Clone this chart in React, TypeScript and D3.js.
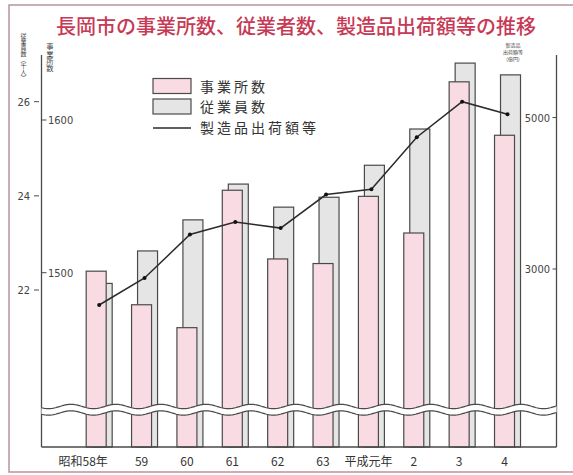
import React from 'react';
import * as d3 from 'd3';

const categories = ['昭和58年', '59', '60', '61', '62', '63', '平成元年', '2', '3', '4'];
const establishments = [1501, 1479, 1464, 1554, 1509, 1506, 1550, 1526, 1625, 1590];
const employees = [22.14, 22.83, 23.49, 24.25, 23.76, 23.97, 24.65, 25.42, 26.82, 26.57];
const shipments = [2525, 2881, 3455, 3620, 3540, 3983, 4052, 4740, 5209, 5042];

const empTicks = [22, 24, 26];
const estTicks = [1500, 1600];
const shipTicks = [3000, 5000];

const empTitle = '従業員数（千人）';
const estTitle = '事業所数';
const shipTitle = ['製造品', '出荷額等', '(億円)'];
const legendLabels = ['事業所数', '従業員数', '製造品出荷額等'];

const W = 573;
const H = 475;
const left = 41.5;
const right = 556.5;
const top = 55;
const bottom = 447;

const PINK = '#f9dbe3';
const GRAY = '#e5e5e5';
const STROKE = '#4a4a4a';
const NUM_FONT = "'Liberation Sans Narrow', 'DejaVu Sans Condensed', 'Liberation Sans', Arial, sans-serif";
const JP_FONT = "'Noto Sans CJK JP', 'Noto Sans', sans-serif";

export default function App() {
  const x = d3.scaleBand<string>().domain(categories).range([76.5, 530.2]).padding(0);
  const bw = x.bandwidth();
  const barW = 20;
  const center = (c: string) => (x(c) as number) + bw / 2;

  const yEmp = d3.scaleLinear().domain([22, 26]).range([290, 101.7]);
  const yEst = d3.scaleLinear().domain([1500, 1600]).range([272.7, 120]);
  const yShip = d3.scaleLinear().domain([3000, 5000]).range([269, 117.5]);

  const linePath = d3
    .line<number>()
    .x((_, i) => center(categories[i]))
    .y((d) => yShip(d))(shipments) as string;

  // wavy break lines
  const waveXs = d3.range(left, right + 0.5, 1);
  const wave = (base: number) => (xx: number) => base + 2.2 * Math.sin(((xx - left) / 45) * 2 * Math.PI + 0.6);
  const upper = wave(406.5);
  const lower = wave(413);
  const upperPts: [number, number][] = waveXs.map((xx) => [xx, upper(xx)]);
  const lowerPts: [number, number][] = waveXs.map((xx) => [xx, lower(xx)]);
  const lineGen = d3.line<[number, number]>();
  const bandPath =
    (lineGen(upperPts) as string) + 'L' + lowerPts.slice().reverse().map((p) => p.join(',')).join('L') + 'Z';

  return (
    <svg width={W} height={H} style={{ position: 'absolute', left: 0, top: 0, background: '#fff' }}>
      {/* outer frame */}
      <path d={`M${W},5H9V472H${W}`} fill="none" stroke="#b8959c" strokeWidth={1.5} />

      {/* title */}
      <text x={296} y={34} textAnchor="middle" fontSize={20} fill="#c63a55" fontFamily={JP_FONT} fontWeight={500}>
        長岡市の事業所数、従業者数、製造品出荷額等の推移
      </text>

      {/* bars: employees (gray, behind) */}
      {categories.map((c, i) => {
        const px = center(c) - 13;
        return (
          <rect
            key={'g' + c}
            x={px + 6}
            y={yEmp(employees[i])}
            width={barW}
            height={bottom - yEmp(employees[i])}
            fill={GRAY}
            stroke={STROKE}
            strokeWidth={1.2}
          />
        );
      })}
      {/* bars: establishments (pink, front) */}
      {categories.map((c, i) => {
        const px = center(c) - 13;
        return (
          <rect
            key={'p' + c}
            x={px}
            y={yEst(establishments[i])}
            width={barW}
            height={bottom - yEst(establishments[i])}
            fill={PINK}
            stroke={STROKE}
            strokeWidth={1.2}
          />
        );
      })}

      {/* axes frame */}
      <line x1={left} x2={left} y1={top} y2={bottom} stroke={STROKE} strokeWidth={1.3} />
      <line x1={right} x2={right} y1={top} y2={bottom} stroke={STROKE} strokeWidth={1.3} />
      <line x1={left} x2={right} y1={bottom} y2={bottom} stroke={STROKE} strokeWidth={1.3} />

      {/* wave break */}
      <path d={bandPath} fill="#fff" stroke="none" />
      <path d={lineGen(upperPts) as string} fill="none" stroke={STROKE} strokeWidth={1.2} />
      <path d={lineGen(lowerPts) as string} fill="none" stroke={STROKE} strokeWidth={1.2} />

      {/* shipments line */}
      <path d={linePath} fill="none" stroke="#2b2b2b" strokeWidth={1.5} />
      {shipments.map((v, i) => (
        <circle key={'d' + i} cx={center(categories[i])} cy={yShip(v)} r={2} fill="#111" />
      ))}

      {/* left outer ticks: employees */}
      {empTicks.map((t) => (
        <g key={'et' + t}>
          <line x1={34} x2={39} y1={yEmp(t)} y2={yEmp(t)} stroke={STROKE} strokeWidth={1} />
          <text x={30} y={yEmp(t) + 4} textAnchor="end" fontSize={11} fill="#444" fontFamily={NUM_FONT}>
            {t}
          </text>
        </g>
      ))}
      {/* left inner ticks: establishments */}
      {estTicks.map((t) => (
        <g key={'st' + t}>
          <line x1={left} x2={46.5} y1={yEst(t)} y2={yEst(t)} stroke={STROKE} strokeWidth={1} />
          <text x={48} y={yEst(t) + 4} textAnchor="start" fontSize={11} fill="#444" fontFamily={NUM_FONT}>
            {t}
          </text>
        </g>
      ))}
      {/* right ticks: shipments */}
      {shipTicks.map((t) => (
        <g key={'sh' + t}>
          <line x1={552.5} x2={right} y1={yShip(t)} y2={yShip(t)} stroke={STROKE} strokeWidth={1} />
          <text x={550} y={yShip(t) + 4} textAnchor="end" fontSize={11} fill="#444" fontFamily={NUM_FONT}>
            {t}
          </text>
        </g>
      ))}

      {/* axis titles */}
      <text
        x={23.5}
        y={33}
        fontSize={6}
        fill="#444"
        fontFamily={JP_FONT}
        style={{ writingMode: 'vertical-rl' as any }}
      >
        {empTitle}
      </text>
      <text
        x={50}
        y={43}
        fontSize={7.3}
        fill="#444"
        fontFamily={JP_FONT}
        style={{ writingMode: 'vertical-rl' as any }}
      >
        {estTitle}
      </text>
      <text fontSize={5} fill="#444" fontFamily={JP_FONT} textAnchor="middle">
        {shipTitle.map((s, i) => (
          <tspan key={'ra' + i} x={513} y={46.5 + i * 7.4}>
            {s}
          </tspan>
        ))}
      </text>

      {/* legend */}
      <rect x={153} y={78.5} width={38} height={15} fill={PINK} stroke={STROKE} strokeWidth={1.2} />
      <rect x={153} y={99} width={38} height={15} fill={GRAY} stroke={STROKE} strokeWidth={1.2} />
      <line x1={153} x2={191} y1={128} y2={128} stroke="#2b2b2b" strokeWidth={1.4} />
      <g fontSize={14} fill="#333" fontFamily={JP_FONT} letterSpacing={3}>
        {legendLabels.map((s, i) => (
          <text key={'lg' + i} x={200} y={91.5 + i * 20.5}>
            {s}
          </text>
        ))}
      </g>

      {/* x labels */}
      {categories.map((c, i) => (
        <text
          key={'xl' + c}
          x={i === 0 ? center(c) - 16 : center(c) - 3}
          y={466}
          textAnchor="middle"
          fontSize={12}
          fill="#333"
          fontFamily={JP_FONT}
        >
          {c}
        </text>
      ))}
    </svg>
  );
}
